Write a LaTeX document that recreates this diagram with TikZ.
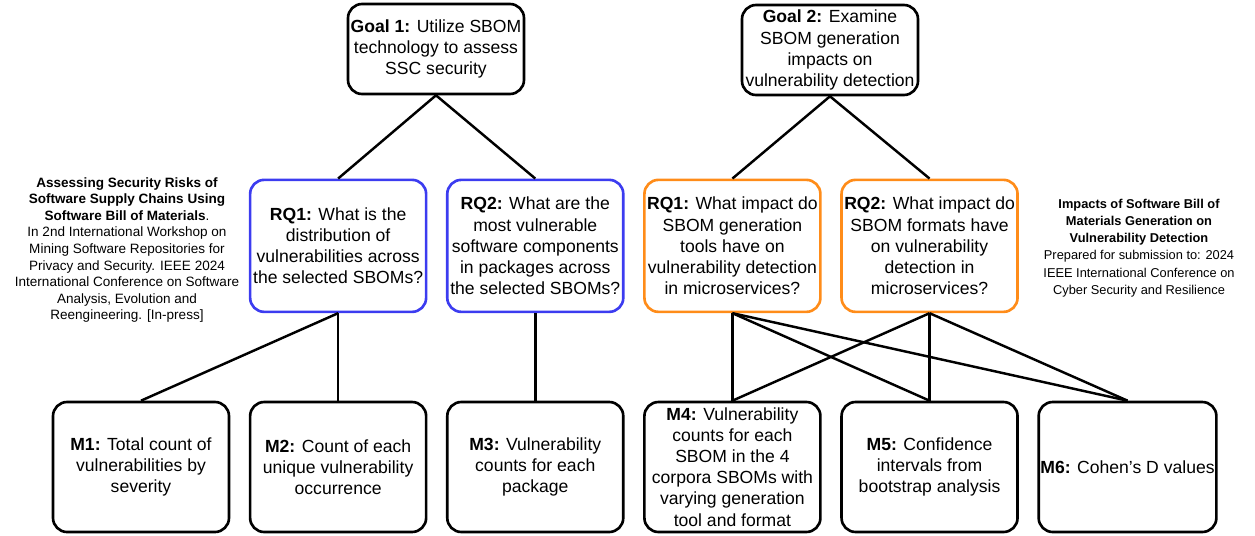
\documentclass[tikz,border=0pt]{standalone}
\usepackage{fontspec}
\setmainfont{Liberation Sans}
\usepackage{tikz}
\usetikzlibrary{positioning}
\usepackage{xcolor}
\definecolor{rqblue}{RGB}{60,60,240}
\definecolor{rqorange}{RGB}{255,140,25}

\begin{document}
\begin{tikzpicture}[
        goal/.style={rectangle, draw=black, line width=1.5pt, rounded corners=8pt, minimum height=1.8cm,
                    minimum width=3.52cm, align=center, font=\fontsize{10}{12}\selectfont, inner sep=1pt},
        rq/.style={goal, minimum height=2.64cm},
        metric/.style={goal, minimum height=2.6cm},
        sidenote/.style={align=center, font=\fontsize{7.7}{9.4}\selectfont, inner sep=0pt},
        link/.style={line width=1.4pt, black},
    ]
        \useasboundingbox (0,0) rectangle (25.1,-10.7);

        % Metriques
        \node[metric] (m1) at (2.82,-9.34)
            {\textbf{M1:} Total count of\\vulnerabilities by\\severity};
        \node[metric, right=0.37cm of m1] (m2)
            {\textbf{M2:} Count of each\\unique vulnerability\\occurrence};
        \node[metric, right=0.37cm of m2] (m3)
            {\textbf{M3:} Vulnerability\\counts for each\\package};
        \node[metric, right=0.37cm of m3] (m4)
            {\textbf{M4:} Vulnerability\\counts for each\\SBOM in the 4\\corpora SBOMs with\\varying generation\\tool and format};
        \node[metric, right=0.37cm of m4] (m5)
            {\textbf{M5:} Confidence\\intervals from\\bootstrap analysis};
        \node[metric, right=0.37cm of m5] (m6)
            {\textbf{M6:} Cohen's D values};

        % Questions de recherche
        \node[rq, draw=rqblue, above=1.75cm of m2] (rqA)
            {\textbf{RQ1:} What is the\\distribution of\\vulnerabilities across\\the selected SBOMs?};
        \node[rq, draw=rqblue, above=1.75cm of m3] (rqB)
            {\textbf{RQ2:} What are the\\most vulnerable\\software components\\in packages across\\the selected SBOMs?};
        \node[rq, draw=rqorange, above=1.75cm of m4] (rqC)
            {\textbf{RQ1:} What impact do\\SBOM generation\\tools have on\\vulnerability detection\\in microservices?};
        \node[rq, draw=rqorange, above=1.75cm of m5] (rqD)
            {\textbf{RQ2:} What impact do\\SBOM formats have\\on vulnerability\\detection in\\microservices?};

        % Objectifs
        \node[goal] (goal1) at (8.72,-0.98)
            {\textbf{Goal 1:} Utilize SBOM\\technology to assess\\SSC security};
        \node[goal] (goal2) at (16.6,-1.0)
            {\textbf{Goal 2:} Examine\\SBOM generation\\impacts on\\vulnerability detection};

        % Publications
        \node[sidenote] (pub1) at (2.54,-5.0)
            {\textbf{Assessing Security Risks of}\\\textbf{Software Supply Chains Using}\\\textbf{Software Bill of Materials}.\\In 2nd International Workshop on\\Mining Software Repositories for\\Privacy and Security. IEEE 2024\\International Conference on Software\\Analysis, Evolution and\\Reengineering. [In-press]};
        \node[sidenote, font=\fontsize{7.3}{9.8}\selectfont] (pub2) at (22.78,-4.96)
            {\textbf{Impacts of Software Bill of}\\\textbf{Materials Generation on}\\\textbf{Vulnerability Detection}\\Prepared for submission to: 2024\\IEEE International Conference on\\Cyber Security and Resilience};

        % Liens
        \draw[link] (goal1.south) -- (rqA.north);
        \draw[link] (goal1.south) -- (rqB.north);
        \draw[link] (goal2.south) -- (rqC.north);
        \draw[link] (goal2.south) -- (rqD.north);

        \draw[link] (rqA.south) -- (m1.north);
        \draw[link] (rqA.south) -- (m2.north);
        \draw[link] (rqB.south) -- (m3.north);

        \draw[link] (rqC.south) -- (m4.north);
        \draw[link] (rqC.south) -- (m5.north);
        \draw[link] (rqC.south) -- (m6.north);
        \draw[link] (rqD.south) -- (m4.north);
        \draw[link] (rqD.south) -- (m5.north);
        \draw[link] (rqD.south) -- (m6.north);
    \end{tikzpicture}
\end{document}
